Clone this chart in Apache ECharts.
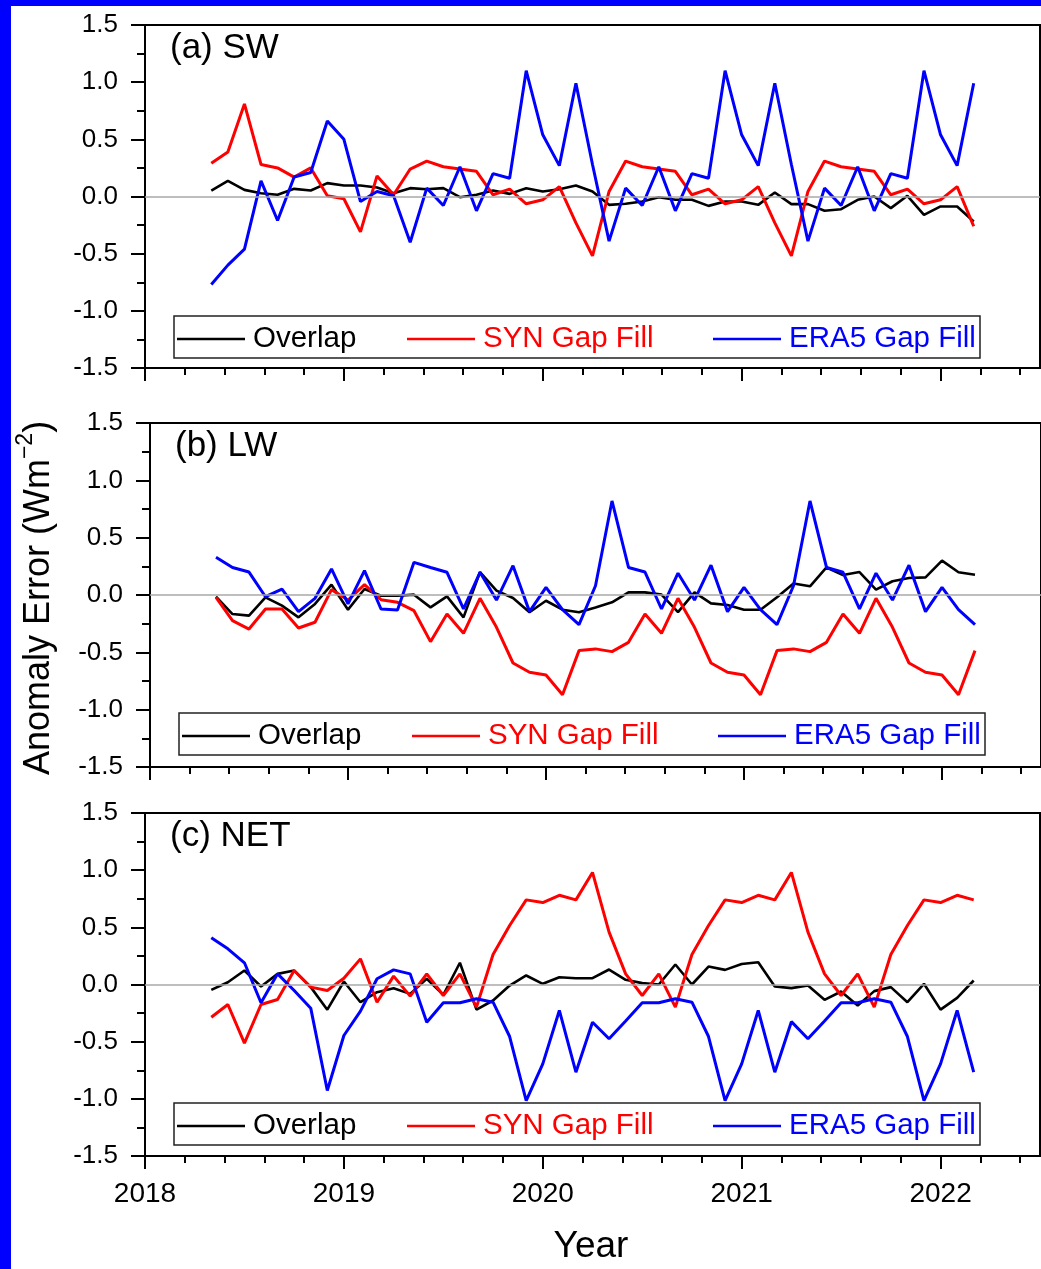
<!DOCTYPE html>
<html>
<head>
<meta charset="utf-8">
<script src="https://cdn.jsdelivr.net/npm/echarts@6/dist/echarts.min.js"></script>
<style>
html,body{margin:0;padding:0;background:#fff;}
#chart{width:1041px;height:1269px;}
</style>
</head>
<body>
<div id="chart"></div>
<script>
// ---------------- DATA ----------------
const months = [
  '2018-05','2018-06','2018-07','2018-08','2018-09','2018-10','2018-11','2018-12',
  '2019-01','2019-02','2019-03','2019-04','2019-05','2019-06','2019-07','2019-08','2019-09','2019-10','2019-11','2019-12',
  '2020-01','2020-02','2020-03','2020-04','2020-05','2020-06','2020-07','2020-08','2020-09','2020-10','2020-11','2020-12',
  '2021-01','2021-02','2021-03','2021-04','2021-05','2021-06','2021-07','2021-08','2021-09','2021-10','2021-11','2021-12',
  '2022-01','2022-02','2022-03'
];

const seriesNames = ['Overlap', 'SYN Gap Fill', 'ERA5 Gap Fill'];
const panelTitles = ['(a) SW', '(b) LW', '(c) NET'];
const yearTicks = [2018, 2019, 2020, 2021, 2022];
const yTickLabels = ['-1.5', '-1.0', '-0.5', '0.0', '0.5', '1.0', '1.5'];

// (a) SW
const swOverlap = [0.052,0.137,0.058,0.029,0.015,0.067,0.052,0.117,0.096,0.096,0.079,0.029,0.073,0.064,0.073,-0.006,0.015,0.052,0.023,0.073,0.044,0.064,0.096,
  0.044,-0.073,-0.064,-0.044,-0.006,-0.029,-0.029,-0.082,-0.044,-0.044,-0.073,0.035,
  -0.067,-0.067,-0.125,-0.111,-0.029,0,-0.102,0.006,-0.16,-0.087,-0.087,-0.219];
const swSYN = [0.29,0.39,0.81,0.28,0.25,0.17,0.25,0.006,-0.02,-0.31,0.18,0.015,0.24,
  0.31,0.26,0.24,0.22,0.015,0.064,-0.064,-0.029,0.087,-0.23,
  -0.52,0.044,0.31,0.26,0.24,0.22,0.015,0.064,-0.064,-0.029,0.087,-0.23,
  -0.52,0.044,0.31,0.26,0.24,0.22,0.015,0.064,-0.064,-0.029,0.087,-0.26];
const swERA5 = [-0.77,-0.60,-0.46,0.137,-0.21,0.17,0.21,0.66,0.50,-0.044,0.044,0.006,-0.40,
  0.073,-0.079,0.26,-0.125,0.20,0.16,1.10,0.54,0.27,0.99,
  0.28,-0.39,0.073,-0.079,0.26,-0.125,0.20,0.16,1.10,0.54,0.27,0.99,
  0.28,-0.39,0.073,-0.079,0.26,-0.125,0.20,0.16,1.10,0.54,0.27,0.99];

// (b) LW
const lwOverlap = [-0.015,-0.166,-0.18,-0.02,-0.093,-0.195,-0.078,0.09,-0.128,0.052,-0.006,-0.006,0.003,-0.108,-0.012,-0.195,0.20,0.038,-0.026,-0.15,-0.05,-0.128,-0.15,
  -0.108,-0.064,0.023,0.023,0.003,-0.15,0.023,-0.073,-0.087,-0.128,-0.128,-0.02,
  0.10,0.076,0.24,0.174,0.20,0.047,0.12,0.148,0.154,0.30,0.198,0.177];
const lwSYN = [-0.02,-0.224,-0.297,-0.122,-0.122,-0.288,-0.238,0.047,-0.044,0.09,-0.041,-0.064,-0.137,-0.407,-0.166,-0.334,-0.029,-0.282,-0.593,-0.674,-0.698,-0.87,-0.485,
  -0.47,-0.494,-0.413,-0.166,-0.334,-0.029,-0.282,-0.593,-0.674,-0.698,-0.87,-0.485,
  -0.47,-0.494,-0.413,-0.166,-0.334,-0.029,-0.282,-0.593,-0.674,-0.698,-0.87,-0.485];
const lwERA5 = [0.33,0.24,0.20,-0.015,0.052,-0.145,-0.029,0.227,-0.078,0.212,-0.122,-0.131,0.285,0.24,0.198,-0.122,0.198,-0.044,0.256,-0.145,0.067,-0.128,-0.259,
  0.081,0.82,0.24,0.20,-0.122,0.19,-0.044,0.26,-0.145,0.067,-0.128,-0.259,
  0.081,0.82,0.24,0.198,-0.122,0.19,-0.044,0.26,-0.145,0.067,-0.128,-0.259];

// (c) NET
const netOverlap = [-0.047,0.02,0.122,-0.017,0.093,0.122,-0.023,-0.22,0.026,-0.155,-0.067,-0.032,-0.082,0.05,-0.09,0.19,-0.22,-0.14,-0.009,0.079,0.006,0.064,0.055,
  0.055,0.131,0.041,0.012,0,0.175,0,0.157,0.128,0.18,0.195,-0.017,
  -0.032,-0.009,-0.134,-0.061,-0.184,-0.058,-0.023,-0.155,0.006,-0.22,-0.117,0.035];
const netSYN = [-0.286,-0.175,-0.513,-0.175,-0.131,0.122,-0.023,-0.052,0.055,0.224,-0.155,0.073,-0.102,0.093,-0.096,0.093,-0.198,0.262,0.516,0.74,0.717,0.78,0.74,
  0.98,0.458,0.093,-0.096,0.093,-0.198,0.262,0.516,0.74,0.717,0.78,0.74,
  0.98,0.458,0.093,-0.096,0.093,-0.198,0.262,0.516,0.74,0.717,0.78,0.74];
const netERA5 = [0.408,0.312,0.19,-0.16,0.093,-0.052,-0.207,-0.927,-0.446,-0.233,0.05,0.128,0.093,-0.33,-0.16,-0.16,-0.125,-0.155,-0.455,-1.015,-0.694,-0.227,-0.767,
  -0.33,-0.475,-0.32,-0.16,-0.16,-0.125,-0.155,-0.455,-1.015,-0.694,-0.227,-0.767,
  -0.325,-0.475,-0.32,-0.16,-0.16,-0.125,-0.155,-0.455,-1.015,-0.694,-0.227,-0.767];

// ---------------- BUILD ----------------
const FONT = '"Liberation Sans", Arial, Helvetica, sans-serif';
const COLORS = ['#000000', '#ff0000', '#0000ff'];
const panels = [
  [swOverlap, swSYN, swERA5],
  [lwOverlap, lwSYN, lwERA5],
  [netOverlap, netSYN, netERA5]
];
const GRIDS = [
  {left: 145, top: 25, width: 895, height: 343, legGap: 10},
  {left: 150, top: 423, width: 895, height: 344, legGap: 12},
  {left: 145, top: 813, width: 895, height: 343, legGap: 11}
];
const xVals = months.map(m => {
  const [y, mo] = m.split('-').map(Number);
  return y + (mo - 1) / 12;
});
const minorTicks = [];
yearTicks.forEach(y => {
  for (let k = 1; k <= 4; k++) {
    const v = Math.round((y + k * 0.2) * 10) / 10;
    if (v < 2022.5) minorTicks.push(v);
  }
});

const grid = [], xAxis = [], yAxis = [], series = [], legend = [], graphic = [];

GRIDS.forEach((g, p) => {
  grid.push({left: g.left, top: g.top, width: g.width, height: g.height, show: true,
    borderColor: '#000', borderWidth: 2, backgroundColor: 'transparent'});

  xAxis.push({
    type: 'value', gridIndex: p, position: 'bottom', min: 2018, max: 2022.5, interval: 1,
    axisLine: {show: true, onZero: false, lineStyle: {color: '#000', width: 2}},
    axisTick: {show: true, inside: false, length: 13, lineStyle: {color: '#000', width: 2}, customValues: yearTicks},
    axisLabel: {show: p === 2, customValues: yearTicks, formatter: v => String(Math.round(v)),
      fontSize: 28, fontFamily: FONT, color: '#000', margin: 24},
    splitLine: {show: false}
  });
  xAxis.push({
    type: 'value', gridIndex: p, position: 'bottom', min: 2018, max: 2022.5,
    axisLine: {show: false, onZero: false},
    axisTick: {show: true, inside: false, length: 7, lineStyle: {color: '#000', width: 2}, customValues: minorTicks},
    axisLabel: {show: false},
    splitLine: {show: false}
  });
  yAxis.push({
    type: 'value', gridIndex: p, position: 'left', min: -1.5, max: 1.5, interval: 0.5,
    axisLine: {show: true, onZero: false, lineStyle: {color: '#000', width: 2}},
    axisTick: {show: true, inside: false, length: 14, lineStyle: {color: '#000', width: 2}},
    minorTick: {show: true, splitNumber: 2, length: 8, lineStyle: {color: '#000', width: 2}},
    axisLabel: {formatter: v => yTickLabels[Math.round((v + 1.5) / 0.5)], fontSize: 26,
      fontFamily: FONT, color: '#000', margin: 27},
    splitLine: {show: false}, minorSplitLine: {show: false}
  });
  yAxis.push({
    type: 'value', gridIndex: p, position: 'right', min: -1.5, max: 1.5, interval: 0.5,
    axisLine: {show: true, onZero: false, lineStyle: {color: '#000', width: 2}},
    axisTick: {show: true, inside: false, length: 14, lineStyle: {color: '#000', width: 2}},
    minorTick: {show: true, splitNumber: 2, length: 8, lineStyle: {color: '#000', width: 2}},
    axisLabel: {show: false},
    splitLine: {show: false}, minorSplitLine: {show: false}
  });

  series.push({
    type: 'line', name: 'zero' + p, xAxisIndex: 2 * p, yAxisIndex: 2 * p, data: [],
    silent: true, animation: false,
    markLine: {silent: true, symbol: 'none', animation: false, label: {show: false},
      lineStyle: {color: '#a8a8a8', width: 1.5, type: 'solid'}, data: [{yAxis: 0}]}
  });

  panels[p].forEach((arr, s) => {
    series.push({
      type: 'line', name: seriesNames[s], xAxisIndex: 2 * p, yAxisIndex: 2 * p,
      data: arr.map((v, i) => [xVals[i], v]),
      symbol: 'none', showSymbol: false, animation: false, silent: true,
      lineStyle: {color: COLORS[s], width: s === 0 ? 2.6 : 3},
      itemStyle: {color: COLORS[s]}
    });
  });

  const bx = g.left + 29, bh = 42, bw = 806;
  const by = g.top + g.height - g.legGap - bh;
  graphic.push({type: 'rect', shape: {x: bx, y: by, width: bw, height: bh},
    style: {fill: '#fff', stroke: '#222', lineWidth: 1.5}, z: 50, silent: true});
  const offs = [3, 233, 539];
  seriesNames.forEach((n, s) => {
    legend.push({
      left: bx + offs[s], top: by + bh / 2 - 13, padding: 0, itemGap: 0,
      icon: 'rect', itemWidth: 68, itemHeight: 2.6, selectedMode: false, z: 60,
      data: [n],
      textStyle: {fontSize: 29.5, fontFamily: FONT, color: COLORS[s], padding: [0, 0, 0, 3]}
    });
  });

  graphic.push({type: 'text', x: g.left + 25, y: g.top + 23.5, z: 60, silent: true,
    style: {text: panelTitles[p], fontSize: 35, fontFamily: FONT, fill: '#000',
      align: 'left', verticalAlign: 'middle'}});
});

graphic.push({type: 'rect', shape: {x: 0, y: 0, width: 11, height: 1269}, style: {fill: '#0000ff'}, z: 100, silent: true});
graphic.push({type: 'rect', shape: {x: 0, y: 0, width: 1041, height: 6}, style: {fill: '#0000ff'}, z: 100, silent: true});

graphic.push({type: 'text', x: 39, y: 598, rotation: Math.PI / 2, z: 60, silent: true,
  style: {text: '{m|Anomaly Error (Wm}{s|\u22122}{m|)}', align: 'center', verticalAlign: 'middle',
    rich: {
      m: {fontSize: 36, fontFamily: FONT, fill: '#000', lineHeight: 50},
      s: {fontSize: 23, fontFamily: FONT, fill: '#000', lineHeight: 23, verticalAlign: 'top'}
    }}});
graphic.push({type: 'text', x: 591, y: 1247, z: 60, silent: true,
  style: {text: 'Year', fontSize: 37, fontFamily: FONT, fill: '#000', align: 'center', verticalAlign: 'middle'}});

const chart = echarts.init(document.getElementById('chart'), null, {renderer: 'canvas'});
chart.setOption({
  backgroundColor: '#ffffff',
  animation: false,
  grid, xAxis, yAxis, series, legend, graphic
});
</script>
</body>
</html>
